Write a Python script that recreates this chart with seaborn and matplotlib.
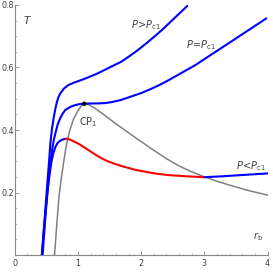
import matplotlib
matplotlib.use("Agg")
import matplotlib.pyplot as plt
import seaborn as sns
import pandas as pd
from matplotlib.ticker import MultipleLocator

# ---- data ----
r_high = [0.43, 0.46, 0.49, 0.52, 0.545, 0.565, 0.59, 0.617, 0.64, 0.665, 0.695, 0.73, 0.78, 0.85, 0.93, 1.0, 1.12, 1.3, 1.53, 1.69, 1.82, 1.95, 2.08, 2.21, 2.34, 2.47, 2.6, 2.73]
T_high = [0.0, 0.08, 0.16, 0.24, 0.305, 0.36, 0.405, 0.44, 0.465, 0.488, 0.507, 0.52, 0.533, 0.544, 0.551, 0.556, 0.565, 0.58, 0.603, 0.619, 0.637, 0.656, 0.677, 0.699, 0.722, 0.747, 0.772, 0.797]

r_crit = [0.44, 0.47, 0.50, 0.53, 0.56, 0.59, 0.62, 0.65, 0.68, 0.72, 0.76, 0.80, 0.88, 0.96, 1.03, 1.10, 1.20, 1.30, 1.42, 1.53, 1.68, 1.84, 2.0, 2.14, 2.3, 2.44, 2.65, 2.86, 3.1, 3.38, 3.68, 3.98]
T_crit = [0.0, 0.08, 0.16, 0.23, 0.29, 0.335, 0.37, 0.395, 0.418, 0.438, 0.453, 0.464, 0.474, 0.480, 0.483, 0.484, 0.485, 0.485, 0.486, 0.489, 0.496, 0.507, 0.518, 0.53, 0.545, 0.56, 0.584, 0.608, 0.64, 0.677, 0.717, 0.757]

r_low_a = [0.43, 0.46, 0.49, 0.52, 0.55, 0.58, 0.61, 0.64, 0.67, 0.70, 0.74, 0.78, 0.81]
T_low_a = [0.0, 0.08, 0.145, 0.205, 0.255, 0.298, 0.325, 0.344, 0.356, 0.363, 0.368, 0.371, 0.372]

r_low_red = [0.81, 0.85, 0.90, 0.95, 1.01, 1.08, 1.15, 1.27, 1.37, 1.46, 1.55, 1.70, 1.90, 2.10, 2.25, 2.42, 2.70, 3.0]
T_low_red = [0.372, 0.371, 0.367, 0.362, 0.356, 0.347, 0.338, 0.322, 0.31, 0.301, 0.294, 0.284, 0.273, 0.265, 0.26, 0.256, 0.252, 0.249]

r_low_b = [3.0, 3.3, 3.6, 4.0]
T_low_b = [0.249, 0.252, 0.256, 0.261]

r_spin = [0.63, 0.65, 0.67, 0.70, 0.74, 0.78, 0.82, 0.87, 0.93, 1.0, 1.05, 1.10, 1.16, 1.25, 1.37, 1.6, 1.9, 2.2, 2.42, 2.6, 2.78, 3.0, 3.2, 3.41, 3.7, 4.0]
T_spin = [0.0, 0.055, 0.11, 0.187, 0.25, 0.305, 0.355, 0.398, 0.435, 0.462, 0.476, 0.484, 0.482, 0.472, 0.455, 0.42, 0.377, 0.335, 0.306, 0.285, 0.268, 0.25, 0.236, 0.223, 0.206, 0.192]

cp_r = [1.10]
cp_T = [0.484]

x_ticks = [0, 1, 2, 3, 4]
y_ticks = [0.2, 0.4, 0.6, 0.8]

BLUE = "#0000ff"
RED = "#ff0000"
GRAY = "#808080"
TXT = "#404040"

sns.set_style("white")
plt.rcParams['font.family'] = ['Liberation Sans Narrow', 'DejaVu Sans']
plt.rcParams['mathtext.fontset'] = 'custom'
plt.rcParams['mathtext.rm'] = 'Liberation Sans Narrow'
plt.rcParams['mathtext.it'] = 'Liberation Sans Narrow:italic'

fig = plt.figure(figsize=(2.73, 2.73), dpi=100)
ax = fig.add_axes([0.054, 0.0659, 0.926, 0.9158])

def draw(r, T, color, lw, z=2):
    df = pd.DataFrame({"r": r, "T": T})
    sns.lineplot(data=df, x="r", y="T", sort=False, estimator=None,
                 color=color, linewidth=lw, ax=ax, zorder=z)

draw(r_spin, T_spin, GRAY, 1.1, 1)
draw(r_high, T_high, BLUE, 1.5)
draw(r_crit, T_crit, BLUE, 1.5)
draw(r_low_a, T_low_a, BLUE, 1.5)
draw(r_low_red, T_low_red, RED, 1.5)
draw(r_low_b, T_low_b, BLUE, 1.5)
sns.scatterplot(x=cp_r, y=cp_T, color="black", s=10, ax=ax, zorder=5, edgecolor="none")

ax.set_xlim(0, 4)
ax.set_ylim(0, 0.8)
ax.set_xlabel("")
ax.set_ylabel("")
for s in ["top", "right"]:
    ax.spines[s].set_visible(False)
for s in ["left", "bottom"]:
    ax.spines[s].set_color("#888888")
    ax.spines[s].set_linewidth(0.8)

ax.set_xticks(x_ticks)
ax.set_xticklabels([str(v) for v in x_ticks])
ax.set_yticks(y_ticks)
ax.set_yticklabels([f"{v:.1f}" for v in y_ticks])
ax.xaxis.set_minor_locator(MultipleLocator(0.2))
ax.yaxis.set_minor_locator(MultipleLocator(0.05))
ax.tick_params(axis="both", which="major", direction="in", length=3, width=0.6,
               color="#888888", labelsize=5.8, labelcolor=TXT)
ax.tick_params(axis="y", which="major", pad=0.8)
ax.tick_params(axis="x", which="major", pad=3)
ax.tick_params(axis="both", which="minor", direction="in", length=1.5, width=0.5,
               color="#aaaaaa")
ax.tick_params(axis="x", bottom=True, which="both")
ax.tick_params(axis="y", left=True, which="both")
ax.patch.set_alpha(0)

fs = 7
ax.text(0.2, 0.752, r"$T$", fontsize=fs + 0.5, color=TXT, ha="center", va="center")
ax.text(2.08, 0.736, r"$P\!>\!P_{\mathrm{c1}}$", fontsize=fs, color=TXT, ha="center", va="center")
ax.text(2.94, 0.672, r"$P\!=\!P_{\mathrm{c1}}$", fontsize=fs, color=TXT, ha="center", va="center")
ax.text(1.16, 0.426, r"$\mathrm{CP}_1$", fontsize=fs, color=TXT, ha="center", va="center")
ax.text(3.74, 0.285, r"$P\!<\!P_{\mathrm{c1}}$", fontsize=fs, color=TXT, ha="center", va="center")
ax.text(3.85, 0.058, r"$r_{\mathrm{b}}$", fontsize=fs, color=TXT, ha="center", va="center")

fig.savefig("out.png", dpi=100)
